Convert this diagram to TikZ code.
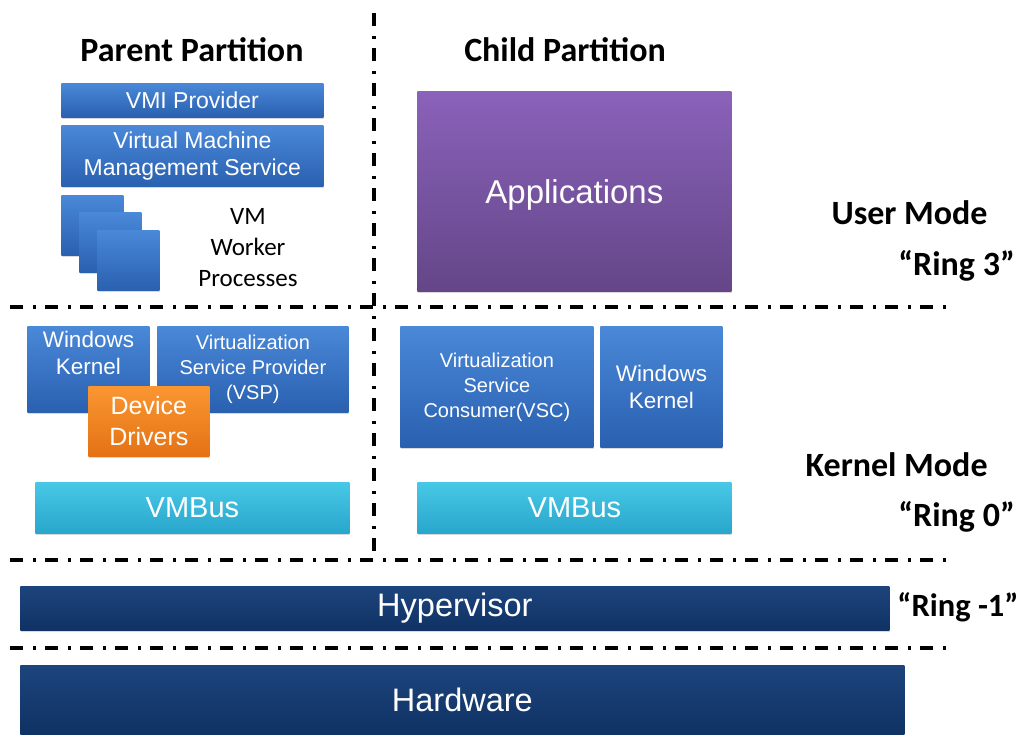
\documentclass[tikz,border=0pt]{standalone}
\usepackage{fontspec}
\setmainfont{Carlito}
\newfontfamily\boxfont{Liberation Sans}
\usetikzlibrary{positioning, shadows}

\definecolor{blueTop}{RGB}{74,136,216}
\definecolor{blueBot}{RGB}{42,96,176}
\definecolor{purpleTop}{RGB}{138,98,186}
\definecolor{purpleBot}{RGB}{100,70,136}
\definecolor{cyanTop}{RGB}{72,200,230}
\definecolor{cyanBot}{RGB}{40,166,204}
\definecolor{orangeTop}{RGB}{250,150,50}
\definecolor{orangeBot}{RGB}{228,114,20}
\definecolor{navyTop}{RGB}{28,68,124}
\definecolor{navyBot}{RGB}{16,50,100}

\begin{document}
\begin{tikzpicture}[
    x=1pt, y=-1pt,
    line width=0.8pt,
    box/.style={rectangle, anchor=north west, inner sep=0pt, align=center, text=white,
        font=\boxfont\fontsize{22.5}{27}\selectfont,
        drop shadow={opacity=0.3, shadow xshift=1pt, shadow yshift=-2pt}},
    bluebox/.style={box, top color=blueTop, bottom color=blueBot},
    purplebox/.style={box, top color=purpleTop, bottom color=purpleBot},
    cyanbox/.style={box, top color=cyanTop, bottom color=cyanBot},
    orangebox/.style={box, top color=orangeTop, bottom color=orangeBot},
    navybox/.style={box, top color=navyTop, bottom color=navyBot},
    title/.style={inner sep=0pt, font=\bfseries\fontsize{34}{36}\selectfont},
    sep/.style={line width=3.2pt, dash pattern=on 13pt off 10pt on 3pt off 9pt}
]
    \useasboundingbox (0,0) rectangle (1025,734);

    % separators
    \draw[sep] (374,13) -- (374,553);
    \draw[sep] (10,307) -- (948,307);
    \draw[sep] (10,560) -- (948,560);
    \draw[sep] (10,648) -- (948,648);

    % parent partition
    \node[title](parent_title) at (192,50){Parent Partition};
    \node[bluebox, minimum width=262pt, minimum height=34pt, font=\boxfont\fontsize{23}{27}\selectfont](vmi) at (61,83){VMI Provider};
    \node[bluebox, minimum width=262pt, minimum height=61pt, font=\boxfont\fontsize{23}{27}\selectfont](vmms) at (61,125){Virtual Machine\\Management Service};
    \node[bluebox, minimum width=62pt, minimum height=60pt](worker1) at (61,195){};
    \node[bluebox, minimum width=62pt, minimum height=60pt](worker2) at (79,212){};
    \node[bluebox, minimum width=62pt, minimum height=60pt](worker3) at (97,230){};
    \node[align=center, font=\fontsize{25}{31}\selectfont](worker_label) at (248,248){VM\\Worker\\Processes};

    \node[bluebox, minimum width=122pt, minimum height=86pt, text depth=34pt](parent_kernel) at (27,326){Windows\\Kernel};
    \node[bluebox, minimum width=191pt, minimum height=86pt, font=\boxfont\fontsize{20}{25}\selectfont](vsp) at (157,326){Virtualization\\Service Provider\\(VSP)};
    \node[orangebox, minimum width=121pt, minimum height=70pt, font=\boxfont\fontsize{25}{31}\selectfont](drivers) at (88,386){Device\\Drivers};
    \node[cyanbox, minimum width=314pt, minimum height=51pt, font=\boxfont\fontsize{29}{32}\selectfont](parent_vmbus) at (35,482){VMBus};

    % child partition
    \node[title](child_title) at (565,50){Child Partition};
    \node[purplebox, minimum width=314pt, minimum height=200pt, text depth=-2pt, font=\boxfont\fontsize{33}{36}\selectfont](apps) at (417,91){Applications};
    \node[bluebox, minimum width=193pt, minimum height=121pt, font=\boxfont\fontsize{20}{25}\selectfont](vsc) at (400,326){Virtualization\\Service\\Consumer(VSC)};
    \node[bluebox, minimum width=122pt, minimum height=121pt](child_kernel) at (600,326){Windows\\Kernel};
    \node[cyanbox, minimum width=314pt, minimum height=51pt, font=\boxfont\fontsize{29}{32}\selectfont](child_vmbus) at (417,482){VMBus};

    % hypervisor and hardware
    \node[navybox, minimum width=869pt, minimum height=44pt, font=\boxfont\fontsize{32.5}{34}\selectfont](hypervisor) at (20,586){Hypervisor};
    \node[navybox, minimum width=884pt, minimum height=69pt, font=\boxfont\fontsize{32.5}{36}\selectfont](hardware) at (20,665){Hardware};

    % modes
    \node[title, anchor=east](user_mode) at (988,213){User Mode};
    \node[title, anchor=west](ring3) at (898,266){“Ring 3”};
    \node[title, anchor=east](kernel_mode) at (988,465){Kernel Mode};
    \node[title, anchor=west](ring0) at (898,517){“Ring 0”};
    \node[title, anchor=west, font=\bfseries\fontsize{32.5}{36}\selectfont](ring_minus1) at (897,607){“Ring -1”};
\end{tikzpicture}
\end{document}
